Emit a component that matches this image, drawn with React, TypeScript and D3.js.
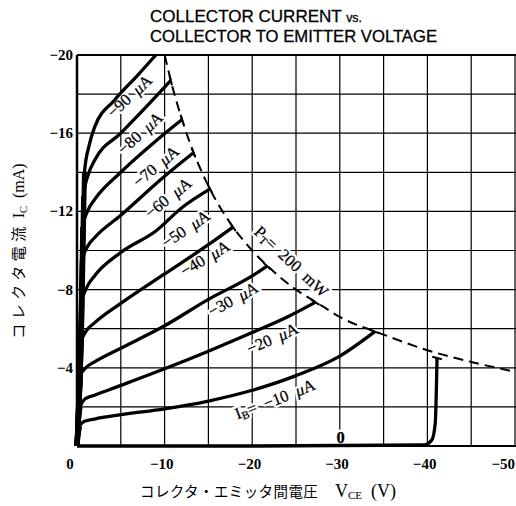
import React, { FC, ReactNode, useMemo } from "react";
import { scaleLinear, line, curveMonotoneX } from "d3";

type Pt = [number, number];

const WIDTH = 516;
const HEIGHT = 506;

// axes: |V_CE| in volts, |I_C| in mA (drawn with a minus sign as in the data sheet)
const xGrid = [0, 5, 10, 15, 20, 25, 30, 35, 40, 45, 50];
const yGrid = [0, 2, 4, 6, 8, 10, 12, 14, 16, 18, 20];
const xTicks = [0, 10, 20, 30, 40, 50];
const yTicks = [4, 8, 12, 16, 20];

// I_B = 0 .. -90 uA
const ib0: Pt[] = [[0, 0], [20, 0], [39.6, 0.05], [40.5, 0.3], [40.9, 1.2], [41.1, 4.5]];
const ib10: Pt[] = [[0, 0], [0.15, 0.6], [0.3, 1.0], [0.8, 1.25], [2, 1.38], [5, 1.6], [10, 1.9], [15, 2.3], [20, 2.85], [25, 3.6], [30, 4.6], [34, 5.85]];
const ib20: Pt[] = [[0, 0], [0.2, 1.4], [0.35, 2.0], [0.9, 2.4], [2, 2.6], [5, 3.1], [10, 3.95], [15, 4.85], [20, 5.8], [24, 6.6], [27.2, 7.35]];
const ib30: Pt[] = [[0, 0], [0.25, 2.6], [0.4, 3.6], [1.0, 4.0], [2, 4.3], [5, 5.0], [10, 6.15], [15, 7.5], [20, 8.7], [21.7, 9.2]];
const ib40: Pt[] = [[0, 0], [0.3, 3.5], [0.45, 5.3], [1.0, 5.85], [2, 6.3], [5, 7.3], [10, 8.8], [15, 10.3], [17.8, 11.2]];
const ib50: Pt[] = [[0, 0], [0.35, 4.5], [0.55, 7.4], [1.1, 8.1], [2, 8.7], [5, 9.9], [9, 11.0], [12, 12.2], [15.2, 13.15]];
const ib60: Pt[] = [[0, 0], [0.4, 5.0], [0.6, 9.5], [1.2, 10.2], [2, 10.65], [5, 11.8], [10, 13.8], [13.3, 15.0]];
const ib70: Pt[] = [[0, 0], [0.45, 5.5], [0.65, 11.2], [1.3, 12.1], [2, 12.6], [5, 14.0], [9, 15.6], [12, 16.7]];
const ib80: Pt[] = [[0, 0], [0.5, 6.0], [0.75, 12.8], [1.3, 13.9], [2, 14.6], [5, 16.0], [8, 17.4], [10.7, 18.7]];
const ib90: Pt[] = [[0, 0], [0.55, 6.5], [0.85, 14.0], [1.4, 15.4], [2, 16.3], [4.3, 17.7], [7, 19.0], [9, 20]];

const baseCurrents = [0, 10, 20, 30, 40, 50, 60, 70, 80, 90];
const curves = [ib0, ib10, ib20, ib30, ib40, ib50, ib60, ib70, ib80, ib90];

// P_T = 200 mW limit
const powerLimit: Pt[] = [[10, 20], [11, 18.2], [12.5, 16], [15, 13.3], [17.5, 11.4], [20, 10], [22.5, 8.9], [25, 8], [27.5, 7.3], [30, 6.6], [35, 5.7], [40, 4.9], [45, 4.3], [50, 3.8]];

// where each curve label sits (data coords) and its tilt
const labelSpots = [
  { v: 30.1, i: 0.45, angle: 0 },
  { v: 22.6, i: 2.4, angle: -21 },
  { v: 22.3, i: 5.5, angle: -24 },
  { v: 17.8, i: 7.5, angle: -29 },
  { v: 14.6, i: 9.6, angle: -31 },
  { v: 12.4, i: 11.1, angle: -34 },
  { v: 10.4, i: 12.7, angle: -39 },
  { v: 9.0, i: 14.3, angle: -40 },
  { v: 7.2, i: 16.0, angle: -42 },
  { v: 6.0, i: 17.9, angle: -43 },
];

const SERIF = "'Liberation Serif', 'DejaVu Serif', serif";
const SANS = "'Liberation Sans', Arial, sans-serif";
const JP = "'Noto Sans CJK JP', sans-serif";
const GAP = "\u2002";

const Micro: FC = () => <tspan fontStyle="italic">μ</tspan>;

// text on the grid: white knockout first, then the ink
const Label: FC<{ transform: string; children: ReactNode; bold?: boolean }> = ({
  transform,
  children,
  bold,
}) => (
  <g transform={transform} fontWeight={bold ? "bold" : "normal"}>
    <text
      textAnchor="middle"
      dominantBaseline="central"
      fill="#fff"
      stroke="#fff"
      strokeWidth={5}
      strokeLinejoin="round"
    >
      {children}
    </text>
    <text
      textAnchor="middle"
      dominantBaseline="central"
      fill="#000"
      stroke="#000"
      strokeWidth={0.25}
    >
      {children}
    </text>
  </g>
);

export default function App() {
  const x = useMemo(() => scaleLinear().domain([0, 50]).range([77, 515]), []);
  const y = useMemo(() => scaleLinear().domain([0, 20]).range([446, 55]), []);

  const path = useMemo(
    () =>
      line<Pt>()
        .x((d) => x(d[0]))
        .y((d) => y(d[1]))
        .curve(curveMonotoneX),
    [x, y]
  );

  // little bar where a curve stops on the power limit, along the dashed line
  const endBar = (p: Pt) => {
    const [v, i] = p;
    const dv = 1;
    const di = (-i / v) * dv;
    const dx = x(v + dv) - x(v);
    const dy = y(i + di) - y(i);
    const len = Math.hypot(dx, dy);
    const ux = (dx / len) * 5;
    const uy = (dy / len) * 5;
    return { x1: x(v) - ux, y1: y(i) - uy, x2: x(v) + ux, y2: y(i) + uy };
  };

  return (
    <svg
      width={WIDTH}
      height={HEIGHT}
      style={{ position: "absolute", left: 0, top: 0, background: "#fff" }}
    >
      {/* title */}
      <g fontFamily={SANS} fontSize={16.5} fill="#000" stroke="#000" strokeWidth={0.3}>
        <text x={150} y={22} textLength={212} lengthAdjust="spacingAndGlyphs">
          COLLECTOR CURRENT <tspan fontSize={12}>vs.</tspan>
        </text>
        <text x={150} y={42} textLength={287} lengthAdjust="spacingAndGlyphs">
          COLLECTOR TO EMITTER VOLTAGE
        </text>
      </g>

      {/* grid */}
      <g stroke="#000" strokeWidth={1.2}>
        {xGrid.map((v) => (
          <line key={"gx" + v} x1={x(v)} x2={x(v)} y1={y(0)} y2={y(20)} />
        ))}
        {yGrid.map((i) => (
          <line key={"gy" + i} x1={x(0)} x2={WIDTH} y1={y(i)} y2={y(i)} />
        ))}
      </g>
      <line x1={x(0)} x2={WIDTH} y1={y(20)} y2={y(20)} stroke="#000" strokeWidth={1.8} />
      <line x1={x(0)} x2={WIDTH} y1={y(0)} y2={y(0)} stroke="#000" strokeWidth={1.8} />
      <line x1={x(0)} x2={x(0)} y1={y(0)} y2={y(20)} stroke="#000" strokeWidth={2.5} />

      {/* curve labels (under the curves so the knockouts never cut them) */}
      <g fontFamily={SERIF} fontSize={16.5}>
        {baseCurrents.map((ib, k) => {
          const s = labelSpots[k];
          const tr = `translate(${x(s.v)},${y(s.i)}) rotate(${s.angle})`;
          if (ib === 0) {
            return (
              <Label key={"l" + k} transform={tr} bold>
                0
              </Label>
            );
          }
          if (ib === 10) {
            return (
              <Label key={"l" + k} transform={tr}>
                I<tspan fontSize={11} dy={4}>B</tspan>
                <tspan dy={-4}>{`=${GAP}−${ib}${GAP}`}</tspan>
                <Micro />A
              </Label>
            );
          }
          return (
            <Label key={"l" + k} transform={tr}>
              {`−${ib}${GAP}`}
              <Micro />A
            </Label>
          );
        })}
        <Label transform={`translate(${x(24.5)},${y(9.45)}) rotate(43)`}>
          P<tspan fontSize={11} dy={4}>T</tspan>
          <tspan dy={-4}>{`=${GAP}200${GAP}mW`}</tspan>
        </Label>
      </g>

      {/* power dissipation limit */}
      <path
        d={path(powerLimit) ?? ""}
        fill="none"
        stroke="#000"
        strokeWidth={2}
        strokeDasharray="10 6"
      />

      {/* characteristic curves; the steep start runs together into a dark band */}
      <g fill="none" stroke="#000" strokeLinejoin="round">
        {curves.map((c, k) => (
          <path key={"c" + k} d={path(c) ?? ""} strokeWidth={3.3} />
        ))}
        {curves.slice(1).map((c, k) => (
          <path key={"s" + k} d={path(c.slice(0, 3)) ?? ""} strokeWidth={5} />
        ))}
      </g>
      <g stroke="#000" strokeWidth={2}>
        {curves
          .filter((c) => c[c.length - 1][1] < 20)
          .map((c, k) => {
            const b = endBar(c[c.length - 1]);
            return <line key={"b" + k} {...b} />;
          })}
      </g>

      {/* tick labels */}
      <g fontFamily={SERIF} fontSize={15} fontWeight="bold" fill="#000">
        {yTicks.map((i) => (
          <text key={"ty" + i} x={73} y={y(i)} textAnchor="end" dominantBaseline="central">
            −{i}
          </text>
        ))}
        {xTicks.map((v) => (
          <text
            key={"tx" + v}
            x={v === 0 ? x(v) - 7 : Math.min(x(v) + 9, WIDTH - 1)}
            y={464}
            textAnchor={v === 0 ? "middle" : "end"}
            dominantBaseline="central"
          >
            {v === 0 ? "0" : `−${v}`}
          </text>
        ))}
      </g>

      {/* axis titles */}
      <text transform="translate(24,251) rotate(-90)" textAnchor="middle" fontSize={15} fill="#000">
        <tspan fontFamily={JP} letterSpacing={4.5}>コレクタ電流</tspan>
        <tspan fontFamily={SERIF} fontSize={16}>
          {" I"}
          <tspan fontSize={10.5} dy={3}>C</tspan>
          <tspan dy={-3}>{`${GAP}(mA)`}</tspan>
        </tspan>
      </text>
      <text x={140} y={497} fontFamily={JP} fontSize={14.5} letterSpacing={0.4} fill="#000">
        コレクタ・エミッタ間電圧
      </text>
      <text x={335} y={497} fontFamily={SERIF} fontSize={18} fill="#000">
        V<tspan fontSize={11} dy={2}>CE</tspan>
        <tspan dy={-2}>{`${GAP}(V)`}</tspan>
      </text>
    </svg>
  );
}
